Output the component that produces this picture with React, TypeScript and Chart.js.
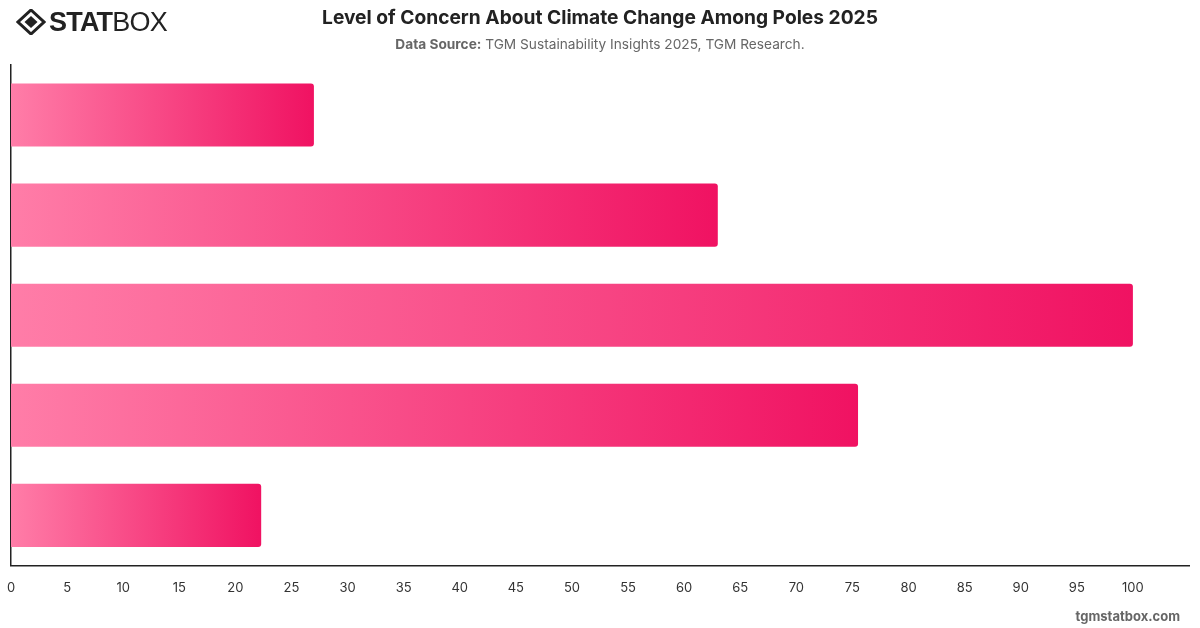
import React, { useEffect, useRef } from "react";
import { Chart, registerables } from "chart.js";

Chart.register(...registerables);

// Share of respondents per concern level (%)
const categories = ["Very concerned", "Fairly concerned", "Somewhat concerned", "Not very concerned", "Not at all concerned"];
const values = [27, 63, 100, 75.5, 22.3];
const xTicksMax = 105;
const xTickStep = 5;

const barStart = "rgb(255, 125, 168)";
const barEnd = "rgb(240, 18, 98)";

function Logo() {
  return (
    <div style={{ position: "absolute", left: 16, top: 8, display: "flex", alignItems: "center", height: 28 }}>
      <svg width="30" height="26" viewBox="0 0 30 26">
        <polygon points="15,1 28,13 15,25 2,13" fill="none" stroke="#222" strokeWidth="3" />
        <polygon points="15,7 21.5,13 15,19 8.5,13" fill="#222" />
      </svg>
      <span style={{ fontFamily: "'Liberation Sans', Arial, sans-serif", fontSize: 27, letterSpacing: -0.8, color: "#222", marginLeft: 3, lineHeight: "28px" }}>
        <span style={{ fontWeight: 900 }}>STAT</span>
        <span style={{ fontWeight: 300 }}>BOX</span>
      </span>
    </div>
  );
}

export default function App() {
  const canvasRef = useRef<HTMLCanvasElement | null>(null);

  useEffect(() => {
    document.body.style.margin = "0";
    const canvas = canvasRef.current;
    if (!canvas) return;
    const chart = new Chart(canvas, {
      type: "bar",
      data: {
        labels: categories,
        datasets: [
          {
            data: values,
            backgroundColor: (ctx: any) => {
              const c = ctx.chart;
              const xs = c.scales && c.scales.x;
              if (!xs) return barEnd;
              const x0 = xs.getPixelForValue(0);
              const x1 = xs.getPixelForValue(ctx.raw as number);
              if (!isFinite(x0) || !isFinite(x1)) return barEnd;
              const g = c.ctx.createLinearGradient(x0, 0, Math.max(x1, x0 + 1), 0);
              g.addColorStop(0, barStart);
              g.addColorStop(1, barEnd);
              return g;
            },
            borderRadius: 3,
            borderSkipped: "start",
            barPercentage: 0.7,
            categoryPercentage: 0.9,
          },
        ],
      },
      options: {
        indexAxis: "y",
        animation: false,
        responsive: false,
        maintainAspectRatio: false,
        layout: { padding: { left: 11, right: 11, top: 65, bottom: 17 } },
        plugins: {
          legend: { display: false },
          tooltip: { enabled: false },
          title: { display: false },
        },
        scales: {
          x: {
            min: 0,
            max: xTicksMax,
            grid: { display: false, drawTicks: false },
            border: { display: true, color: "#222", width: 1.5 },
            afterFit: (scale: any) => {
              scale.paddingLeft = 0;
              scale.paddingRight = 0;
            },
            ticks: {
              stepSize: xTickStep,
              padding: 15,
              color: "#333",
              font: { family: "Inter, 'Noto Sans', sans-serif", size: 13 },
              callback: (v: any) => (Number(v) > 100 ? "" : String(v)),
            },
          },
          y: {
            grid: { display: false, drawTicks: false },
            border: { display: true, color: "#222", width: 1.5 },
            ticks: { display: false },
          },
        },
      },
    });
    return () => chart.destroy();
  }, []);

  return (
    <div style={{ position: "relative", width: 1200, height: 628, background: "#fff", overflow: "hidden" }}>
      <canvas ref={canvasRef} width={1200} height={628} style={{ position: "absolute", left: 0, top: 0, width: 1200, height: 628 }} />
      <Logo />
      <div style={{ position: "absolute", left: 0, top: 5, width: 1200, textAlign: "center", fontFamily: "Inter, 'Noto Sans', sans-serif", fontWeight: 700, fontSize: 19.2, color: "#222" }}>
        Level of Concern About Climate Change Among Poles 2025
      </div>
      <div style={{ position: "absolute", left: 0, top: 36, width: 1200, textAlign: "center", fontFamily: "Inter, 'Noto Sans', sans-serif", fontSize: 13.7, color: "#666" }}>
        <span style={{ fontWeight: 700 }}>Data Source:</span> TGM Sustainability Insights 2025, TGM Research.
      </div>
      <div style={{ position: "absolute", right: 20, top: 608, fontFamily: "Inter, 'Noto Sans', sans-serif", fontWeight: 700, fontSize: 13, color: "#666" }}>
        tgmstatbox.com
      </div>
    </div>
  );
}
